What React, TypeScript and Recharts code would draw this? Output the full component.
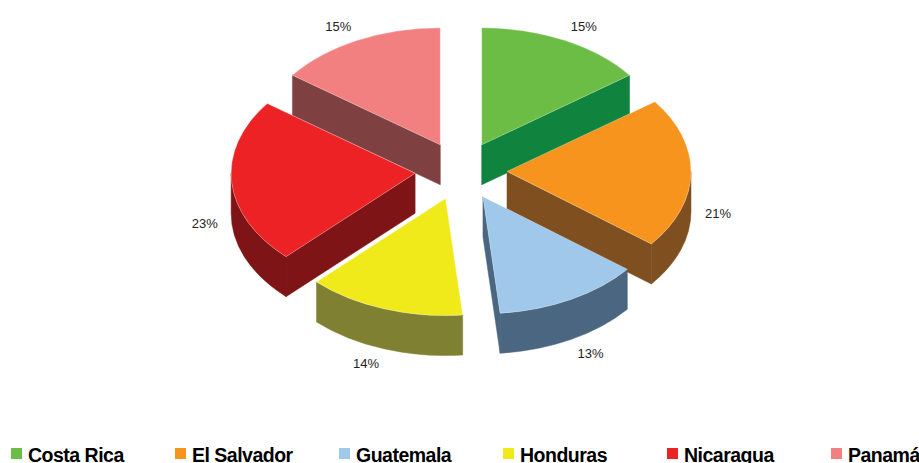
import React from 'react';
import { PieChart, Pie, Legend } from 'recharts';

// share of each country, percent
const countries = ['Costa Rica', 'El Salvador', 'Guatemala', 'Honduras', 'Nicaragua', 'Panamá'];
const shares = [15, 21, 13, 14, 23, 15];
const topColors = ['#6CBD45', '#F7941D', '#9FC8EA', '#F1EA1B', '#ED2224', '#F38081'];
const sideColors = ['#10833F', '#7F4F1F', '#4B6680', '#808033', '#7F1416', '#7F4042'];

const data = countries.map((name, i) => ({ name, value: shares[i] }));

const TILT = 0.636; // ry / rx
const DEPTH = 40;
const EXPLODE = 0.25;
const RAD = Math.PI / 180;

// turn the sector recharts computed into an exploded, tilted slice
const sliceGeom = (p: any) => {
  const rx = p.outerRadius;
  const ry = p.outerRadius * TILT;
  const t1 = 90 - p.startAngle;
  const t2 = 90 - p.endAngle;
  const tm = (t1 + t2) / 2;
  const ox = p.cx + EXPLODE * rx * Math.sin(tm * RAD);
  const oy = p.cy - EXPLODE * ry * Math.cos(tm * RAD);
  const pt = (t: number, dy = 0) => [ox + rx * Math.sin(t * RAD), oy - ry * Math.cos(t * RAD) + dy];
  return { rx, ry, t1, t2, tm, ox, oy, pt };
};

const renderWalls = (p: any) => {
  const { rx, ry, t1, t2, ox, oy, pt } = sliceGeom(p);
  const col = sideColors[p.index];
  const parts: React.ReactNode[] = [];
  const radial = (t: number, key: string) => {
    const [x, y] = pt(t);
    parts.push(
      <path key={key} fill={col} stroke={col} strokeWidth={0.5}
        d={`M${ox},${oy} L${x},${y} L${x},${y + DEPTH} L${ox},${oy + DEPTH} Z`} />
    );
  };
  if (Math.sin(t1 * RAD) < -0.001) radial(t1, 's');
  if (Math.sin(t2 * RAD) > 0.001) radial(t2, 'e');
  const a = Math.max(t1, 90);
  const b = Math.min(t2, 270);
  if (b > a) {
    const [ax, ay] = pt(a);
    const [bx, by] = pt(b);
    const large = b - a > 180 ? 1 : 0;
    parts.push(
      <path key="o" fill={col} stroke={col} strokeWidth={0.5}
        d={`M${ax},${ay} A${rx},${ry} 0 ${large} 1 ${bx},${by} L${bx},${by + DEPTH} A${rx},${ry} 0 ${large} 0 ${ax},${ay + DEPTH} Z`} />
    );
  }
  return <g key={`w${p.index}`}>{parts}</g>;
};

const renderTop = (p: any) => {
  const { rx, ry, t1, t2, ox, oy, pt } = sliceGeom(p);
  const [x1, y1] = pt(t1);
  const [x2, y2] = pt(t2);
  const large = t2 - t1 > 180 ? 1 : 0;
  return (
    <path key={`t${p.index}`} fill={topColors[p.index]} stroke="#ffffff" strokeOpacity={0.5} strokeWidth={0.6}
      d={`M${ox},${oy} L${x1},${y1} A${rx},${ry} 0 ${large} 1 ${x2},${y2} Z`} />
  );
};

const renderPercent = (p: any) => {
  const { tm, pt } = sliceGeom(p);
  const s = Math.sin(tm * RAD);
  const c = Math.cos(tm * RAD);
  const [x, y] = pt(tm, c < 0 ? DEPTH : 0);
  const anchor = s > 0.3 ? 'start' : s < -0.3 ? 'end' : 'middle';
  return (
    <text key={`l${p.index}`} x={x + 14 * s} y={y - 16 * c} textAnchor={anchor} dominantBaseline="central"
      fontFamily="Liberation Sans, Arial, sans-serif" fontSize={13} fill="#222">
      {`${p.value}%`}
    </text>
  );
};

const renderLegend = () => (
  <div style={{ display: 'flex', paddingLeft: 11 }}>
    {countries.map((name, i) => (
      <div key={name} style={{ width: 164, flexShrink: 0, display: 'flex', alignItems: 'flex-start', height: 20 }}>
        <span style={{ width: 11, height: 11, background: topColors[i], display: 'inline-block', marginTop: 3, marginRight: 6, flexShrink: 0 }} />
        <span style={{ fontFamily: 'Liberation Sans, Arial, sans-serif', fontWeight: 'bold', fontSize: 19.5, lineHeight: '20px', letterSpacing: -0.5, color: '#000', whiteSpace: 'nowrap' }}>
          {name}
        </span>
      </div>
    ))}
  </div>
);

export default function App() {
  return (
    <div style={{ position: 'absolute', left: 0, top: 0, width: 919, height: 463, background: '#fff', overflow: 'hidden' }}>
      <PieChart width={919} height={463} margin={{ top: 0, right: 0, bottom: 0, left: 0 }}>
        <Pie data={data} dataKey="value" nameKey="name" cx={461} cy={171} outerRadius={184}
          startAngle={90} endAngle={-270} fill="transparent" stroke="none"
          label={renderWalls} labelLine={false} isAnimationActive={false} />
        <Pie data={data} dataKey="value" nameKey="name" cx={461} cy={171} outerRadius={184}
          startAngle={90} endAngle={-270} fill="transparent" stroke="none" legendType="none"
          label={renderTop} labelLine={false} isAnimationActive={false} />
        <Pie data={data} dataKey="value" nameKey="name" cx={461} cy={171} outerRadius={184}
          startAngle={90} endAngle={-270} fill="transparent" stroke="none" legendType="none"
          label={renderPercent} labelLine={false} isAnimationActive={false} />
        <Legend content={renderLegend} verticalAlign="bottom"
          wrapperStyle={{ left: 0, top: 445, width: 919, height: 18, overflow: 'hidden' }} />
      </PieChart>
    </div>
  );
}
